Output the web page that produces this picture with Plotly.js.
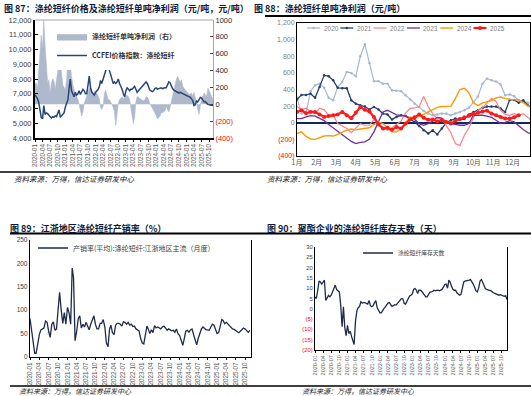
<!DOCTYPE html>
<html><head><meta charset="utf-8">
<script src="https://cdn.plot.ly/plotly-3.0.1.min.js"></script>
<style>html,body{margin:0;padding:0;background:#fff;overflow:hidden}</style>
</head><body><div id="chart" style="width:531px;height:396px"></div>
<script>
// ---------- DATA ----------
// Chart 87: semi-monthly from 2020-01
const priceCCFEI = [6930,6800,6650,6400,6000,5400,5300,6200,5600,5700,
5650,5500,5450,5350,5450,5400,5500,5450,5700,5900,
5400,5500,5600,5700,6100,6300,6600,7400,8000,7200,
7000,6800,7100,6900,7000,7200,6950,7100,7300,7200,
7000,7000,7600,8200,7400,7100,7000,6900,7100,7200,
7300,7500,7900,7700,8000,8200,8400,8700,9100,8600,
8300,7900,7700,7800,7700,7800,8000,7700,7500,7300,
7000,6800,7200,7400,7300,7200,7300,7300,7400,7500,
7300,7100,7200,7300,7400,7500,7600,7700,7800,7700,
7400,7250,7200,7150,7200,7350,7400,7300,7350,7400,
7400,7350,7400,7400,7400,7600,7800,7750,7500,7350,
7250,7200,7150,7100,7050,7100,7050,7000,6950,6950,
6900,6850,6800,6750,6650,6550,6200,6250,6500,6450,
6600,6750,6700,6550,6450,6450,6350,6280,6250,6250,
6200,6200];
const profitPerTon = [250,250,190,400,600,820,650,1000,700,400,
250,290,130,250,300,280,170,290,380,530,
510,370,230,200,170,290,560,600,450,330,
230,160,120,95,60,0,-60,-140,-90,15,
50,90,135,190,200,170,115,150,145,130,
95,60,-40,-60,-25,120,170,110,55,55,
30,0,-40,-90,-250,-140,15,55,80,90,
55,95,110,105,90,55,-40,-140,-230,-150,
30,90,85,70,60,45,40,55,90,85,
60,10,-25,-50,-75,-100,-140,-170,-160,-140,
-100,-100,-90,-80,-25,-50,-90,-40,35,95,
150,220,300,330,280,260,290,215,190,170,
150,135,115,125,135,95,140,80,40,-60,
-120,-20,70,95,135,110,95,190,150,110,
90,55];

// Chart 88: weekly profit by year
const yearNames = ['2020','2021','2022','2023','2024','2025'];
const monthLabels = ['1月','2月','3月','4月','5月','6月','7月','8月','9月','10月','11月','12月'];
const profit2020 = [300,110,120,380,450,470,420,300,270,430,490,610,600,560,800,945,720,500,500,470,470,390,385,380,330,280,230,190,140,110,90,100,110,110,90,110,130,150,180,250,315,470,530,510,495,460,330,340,320,270,255,240,230];
const profit2021 = [280,335,335,350,300,430,570,560,510,420,415,415,270,230,210,195,160,190,160,110,100,40,70,90,80,50,10,-40,-90,-130,-90,-140,-70,0,30,50,35,45,100,130,150,180,195,195,195,170,130,275,275,240,270,210,190];
const profit2022 = [195,155,175,130,110,175,155,90,90,-10,-40,-70,-120,-60,-10,-30,-30,40,-20,-60,-90,-60,-20,20,120,170,180,195,315,195,110,50,50,-30,-120,-250,-275,-150,-60,60,150,180,240,295,255,150,100,90,110,90,110,60,20];
const profit2023 = [50,50,70,85,80,55,25,-20,-60,-100,-140,-190,-225,-250,-235,-230,-200,-110,20,130,150,120,95,90,80,60,40,-10,-30,-10,20,65,55,10,-10,-20,-30,-30,-10,90,90,90,80,65,30,-10,5,25,10,-40,-80,-120,-135];
const profit2024 = [-130,-110,-165,-195,-200,-180,-160,-155,-160,-140,-110,-90,-75,-85,-75,-70,-60,-20,10,-10,-60,-110,-110,-70,0,70,60,80,100,130,160,185,195,200,200,290,400,415,360,240,205,240,255,265,300,310,290,280,275,275,240,195,170];
const profit2025 = [130,150,115,130,130,100,70,80,90,100,130,90,55,120,190,155,135,70,-20,-70,-60,-85,-50,-70,-10,40,65,100,60,35,40,15,30,10,-10,25,45,65,85,105,120,135,145,110,90,70,50,50,65,90];

// Chart 89: semi-monthly from 2020-01 (%)
const salesRatio = [82,57,30,8,8,30,48,58,60,62,
77,74,55,42,70,75,57,60,100,138,
100,72,95,70,106,95,70,190,170,35,
55,82,88,62,70,64,74,66,58,70,
80,88,70,60,60,72,72,80,64,30,
22,60,68,52,48,68,72,72,70,66,
75,74,70,74,68,70,65,66,60,58,
56,40,30,28,52,66,60,50,58,52,
67,62,64,62,60,64,66,62,57,60,
58,56,57,53,60,50,46,36,25,40,
55,57,53,58,60,48,38,26,40,50,
60,64,60,58,58,57,64,70,68,58,
50,52,70,80,78,71,74,70,66,63,
60,59,56,55,52,55,60,62,60,56,
53,57];

// Chart 90: semi-monthly from 2020-01 (days)
const inventoryDays = [5.8,5,9,13.5,13,12,13,13.9,4,5.5,
6.5,5.8,6.6,8.2,9.5,11.5,9.3,8.6,8.2,2,
-8.7,1,-9,-13,-8,-12,-11,-13.5,-15,-17.3,
-6,-1,0.5,1,3.4,2.8,3,3,2.6,2.3,
4,1.5,1,1.5,3,4,0.5,-1,-2,-2,
-0.6,0.2,0.8,2,2.8,3,1.8,1.2,1.5,2,
1.8,2.6,3.2,4.5,5,4.8,2.6,2.3,3.8,5.5,
6.2,6.6,7.4,9.5,9.8,9,7.4,9,9,8.5,
7.5,6.4,5.8,5.8,7,8,8.2,8.4,9,8.7,
8.9,9,8.7,9,9.4,10.5,11.8,12,10,13.9,
13,11,9.5,9,9,7.8,7,6.6,7,10.6,
13,13.4,13.5,13.6,13.9,14.2,13.3,12,10.5,8.8,
8.2,10,13.5,14.2,13,11.2,9.8,9.4,9,9,
8.8,8.2,7.8,7.5,7.2,7,6.6,6.9,6.6,6.4,
6.1,6.3,4.5];

// ---------- HELPERS ----------
const W = 531, H = 396;
const px = x => x / W, py = y => 1 - y / H;
function halfMonthDates(n) {
  const out = [];
  for (let k = 0; k < n; k++) {
    const m = Math.floor(k / 2), y = 2020 + Math.floor(m / 12), mm = m % 12 + 1;
    out.push(y + '-' + String(mm).padStart(2, '0') + '-' + (k % 2 ? '16' : '01'));
  }
  return out;
}
const weekIdx = n => Array.from({length: n}, (_, i) => i + 1);
const RED = '#FF0000';
const CJK = '"Noto Sans CJK SC", "Liberation Sans", sans-serif';
const NUM = '"Liberation Sans", Arial, sans-serif';
const red = t => '<span style="color:' + RED + '">' + t + '</span>';
const fmtNum = v => v < 0 ? red('(' + Math.abs(v).toLocaleString('en-US') + ')') : v.toLocaleString('en-US');
const range = (a, b, s) => { const r = []; for (let v = a; v <= b + 1e-9; v += s) r.push(v); return r; };

// ---------- TRACES ----------
const d1 = halfMonthDates(priceCCFEI.length);
const traces = [
  {x: d1, y: profitPerTon, xaxis: 'x', yaxis: 'y', type: 'scatter', mode: 'lines', fill: 'tozeroy',
   fillcolor: '#AEB9CB', line: {color: '#AEB9CB', width: 0.6}, name: '涤纶短纤单吨净利润（右）', legend: 'legend'},
  {x: d1, y: priceCCFEI, xaxis: 'x', yaxis: 'y2', type: 'scatter', mode: 'lines',
   line: {color: '#2A4577', width: 1.5}, name: 'CCFEI价格指数：涤纶短纤', legend: 'legend'}
];
const yearSeries = [profit2020, profit2021, profit2022, profit2023, profit2024, profit2025];
const yearColors = ['#A8B7CF', '#243F6B', '#FF7F85', '#7030A0', '#FF9900', '#FF1A1A'];
const yearWidth = [1.2, 1.3, 1.2, 1.3, 1.4, 2.2];
const yearMarker = [2.5, 2.5, 0, 0, 0, 4];
yearSeries.forEach((s, i) => {
  traces.push({x: weekIdx(s.length), y: s, xaxis: 'x2', yaxis: 'y3', type: 'scatter',
    mode: yearMarker[i] ? 'lines+markers' : 'lines', name: yearNames[i], showlegend: false,
    line: {color: yearColors[i], width: yearWidth[i]}, marker: {size: yearMarker[i], color: yearColors[i]}});
});
traces.push({x: halfMonthDates(salesRatio.length), y: salesRatio, xaxis: 'x3', yaxis: 'y4', type: 'scatter', mode: 'lines',
  line: {color: '#1E2B4A', width: 1.3}, name: '产销率(平均):涤纶短纤:江浙地区主流（月度）', legend: 'legend2'});
traces.push({x: halfMonthDates(inventoryDays.length), y: inventoryDays, xaxis: 'x4', yaxis: 'y5', type: 'scatter', mode: 'lines',
  line: {color: '#1E2B4A', width: 1.3}, name: '涤纶短纤库存天数', legend: 'legend3'});

// ---------- LAYOUT ----------
const dateAxis = (dom, anchor, end, fs) => ({domain: dom, anchor: anchor, type: 'date', range: ['2020-01-01', end],
  tick0: '2020-01-01', dtick: 'M3', tickformat: '%Y-%m', tickangle: -90,
  tickfont: {family: NUM, size: fs, color: '#595959'}, showgrid: false, zeroline: false,
  showline: true, linecolor: '#000', linewidth: 1, ticks: 'outside', ticklen: 2, tickcolor: '#000'});

const p1Ticks = range(4000, 12000, 1000), r1Ticks = range(-400, 1000, 200);
const p2Ticks = range(-400, 1200, 200), p4Ticks = range(-20, 30, 5);
const monthTicks = monthLabels.map((_, i) => 1 + i * 52 / 12);

const layout = {
  width: W, height: H, margin: {l: 0, r: 0, t: 0, b: 0},
  paper_bgcolor: '#fff', plot_bgcolor: '#fff',
  font: {family: CJK, color: '#333'},
  xaxis: Object.assign(dateAxis([px(35), px(213)], 'y', '2025-11-16', 6.3), {linewidth: 1.5}),
  yaxis: {domain: [py(138), py(20)], anchor: 'x', side: 'right', range: [-400, 1000],
    tickvals: r1Ticks, ticktext: r1Ticks.map(v => v < 0 ? red('(' + (-v) + ')') : String(v)),
    tickfont: {family: NUM, size: 7.5, color: '#262626'}, showgrid: false, zeroline: false,
    showline: true, linecolor: '#A6A6A6', linewidth: 1, ticks: 'inside', ticklen: 3, tickcolor: '#404040'},
  yaxis2: {overlaying: 'y', anchor: 'x', side: 'left', range: [4000, 12000],
    tickvals: p1Ticks, ticktext: p1Ticks.map(fmtNum),
    tickfont: {family: NUM, size: 7.5, color: '#404040'}, showgrid: false, zeroline: false,
    showline: true, linecolor: '#000', linewidth: 2, ticks: 'inside', ticklen: 3, tickcolor: '#000'},
  xaxis2: {domain: [px(297), px(530)], anchor: 'y3', range: [1, 52.5], tickvals: monthTicks, ticktext: monthLabels,
    tickfont: {family: CJK, size: 7, color: '#595959'}, showgrid: false, zeroline: false,
    showline: true, mirror: true, linecolor: '#000', linewidth: 1, ticks: ''},
  yaxis3: {domain: [py(156), py(23)], anchor: 'x2', range: [-400, 1200], tickvals: p2Ticks, ticktext: p2Ticks.map(fmtNum),
    tickfont: {family: NUM, size: 7, color: '#7F7F7F'}, showgrid: false,
    zeroline: true, zerolinecolor: '#0E2A5C', zerolinewidth: 1.5,
    showline: true, mirror: true, linecolor: '#000', linewidth: 1, ticks: ''},
  xaxis3: dateAxis([px(30), px(251)], 'y4', '2025-11-28', 6.3),
  yaxis4: {domain: [py(357), py(240)], anchor: 'x3', range: [0, 250], dtick: 50,
    tickfont: {family: NUM, size: 6.5, color: '#404040'}, showgrid: false, zeroline: false,
    showline: true, mirror: true, linecolor: '#000', linewidth: 1.2, ticks: ''},
  xaxis4: dateAxis([px(315), px(507)], 'y5', '2025-12-01', 5.5),
  yaxis5: {domain: [py(350), py(247)], anchor: 'x4', range: [-20, 30], tickvals: p4Ticks, ticktext: p4Ticks.map(fmtNum),
    tickfont: {family: NUM, size: 5.8, color: '#404040'}, showgrid: false, zeroline: false,
    showline: true, mirror: true, linecolor: '#000', linewidth: 1.2, ticks: ''},
  legend: {x: px(52), y: py(22), xanchor: 'left', yanchor: 'top', bgcolor: '#fff',
    font: {family: CJK, size: 7, color: '#333', weight: 'bold'}, tracegroupgap: 0, itemwidth: 30},
  legend2: {x: px(33), y: py(248), xanchor: 'left', yanchor: 'middle', bgcolor: 'rgba(0,0,0,0)',
    font: {family: CJK, size: 7, color: '#404040'}},
  legend3: {x: px(358), y: py(253), xanchor: 'left', yanchor: 'middle', bgcolor: 'rgba(0,0,0,0)',
    font: {family: CJK, size: 5.8, color: '#404040'}},
  shapes: [], annotations: []
};

// frame top for chart 87
layout.shapes.push({type: 'line', xref: 'x domain', yref: 'y domain', x0: 0, x1: 1, y0: 1, y1: 1, line: {color: '#A6A6A6', width: 1}});
// separator rules
const hline = (x0, x1, y, w) => layout.shapes.push({type: 'line', xref: 'paper', yref: 'paper', x0: px(x0), x1: px(x1), y0: py(y), y1: py(y), line: {color: '#000', width: w}});
hline(265, 531, 16, 1.8);
hline(0, 531, 172, 1.5);
hline(10, 531, 233.5, 1.8);
hline(10, 531, 386, 1.5);

// titles & sources
const titleFont = {family: CJK, size: 9, color: '#0D1A3A', weight: 'bold'};
const srcFont = {family: CJK, size: 7.5, color: '#222', style: 'italic'};
const ann = (x, y, text, font) => layout.annotations.push({xref: 'paper', yref: 'paper', x: px(x), y: py(y), xanchor: 'left', yanchor: 'middle', showarrow: false, text: text, font: font});
ann(2, 9, '图 87：涤纶短纤价格及涤纶短纤单吨净利润（元/吨，元/吨）', titleFont);
ann(252, 9, '图 88：涤纶短纤单吨净利润（元/吨）', titleFont);
ann(8, 228, '图 89：江浙地区涤纶短纤产销率（%）', titleFont);
ann(265, 228, '图 90：聚酯企业的涤纶短纤库存天数（天）', titleFont);
const srcText = '资料来源：万得，信达证券研发中心';
ann(12, 178, srcText, srcFont);
ann(265, 178, srcText, srcFont);
ann(17, 390.5, srcText, Object.assign({}, srcFont, {size: 7}));
ann(300, 390.5, srcText, Object.assign({}, srcFont, {size: 7}));

// manual legend for chart 88
yearNames.forEach((n, i) => {
  const x0 = 307 + i * 33.3, yy = 28;
  layout.shapes.push({type: 'line', xref: 'paper', yref: 'paper', x0: px(x0), x1: px(x0 + 13), y0: py(yy), y1: py(yy),
    line: {color: yearColors[i], width: yearWidth[i]}});
  if (yearMarker[i]) layout.shapes.push({type: 'circle', xref: 'paper', yref: 'paper', fillcolor: yearColors[i], line: {width: 0},
    x0: px(x0 + 6.5 - yearMarker[i] / 2), x1: px(x0 + 6.5 + yearMarker[i] / 2), y0: py(yy + yearMarker[i] / 2), y1: py(yy - yearMarker[i] / 2)});
  ann(x0 + 14.5, yy, n, {family: NUM, size: 6.5, color: '#7F7F7F'});
});

Plotly.newPlot('chart', traces, layout, {displayModeBar: false, staticPlot: true});
</script></body></html>
